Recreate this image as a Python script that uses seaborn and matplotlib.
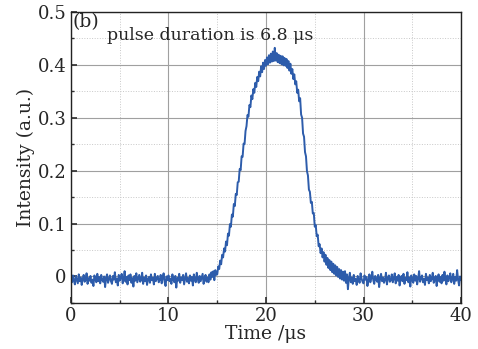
import numpy as np
import pandas as pd
import matplotlib
matplotlib.use("Agg")
import matplotlib.pyplot as plt
import seaborn as sns
from matplotlib.ticker import MultipleLocator

# Осциллограмма импульса, шаг 0.1 мкс
time_step = 0.1
intensity = [
    -0.004, -0.011, 0.002, -0.008, -0.015, 0.001, -0.006, -0.013, 0.004, -0.009,
    -0.002, -0.016, -0.005, 0.003, -0.010, -0.007, 0.006, -0.014, -0.003, -0.008,
    0.001, -0.012, -0.006, -0.018, 0.002, -0.004, -0.011, 0.005, -0.009, -0.001,
    -0.013, 0.003, -0.007, -0.010, 0.000, -0.020, -0.003, 0.004, -0.012, -0.005,
    0.002, -0.009, -0.014, 0.001, -0.006, 0.008, -0.011, -0.004, -0.017, 0.003,
    -0.008, -0.002, 0.005, -0.013, -0.006, 0.010, -0.010, -0.001, -0.015, 0.002,
    -0.007, 0.004, -0.012, -0.003, -0.019, 0.001, -0.008, 0.006, -0.011, -0.004,
    0.003, -0.010, -0.006, 0.007, -0.014, -0.002, -0.009, 0.002, -0.016, -0.005,
    -0.001, -0.012, 0.004, -0.007, -0.003, -0.015, 0.005, -0.009, -0.004, 0.001,
    -0.011, -0.006, 0.003, -0.013, -0.002, 0.006, -0.010, -0.018, 0.000, -0.007,
    0.002, -0.009, -0.004, -0.014, 0.004, -0.006, -0.011, 0.001, -0.021, -0.003,
    -0.008, 0.005, -0.012, -0.002, -0.007, 0.003, -0.015, -0.005, 0.006, -0.010,
    -0.003, -0.013, 0.002, -0.008, -0.001, -0.017, 0.004, -0.006, -0.011, 0.007,
    -0.005, -0.012, 0.001, -0.009, -0.002, 0.005, -0.014, -0.004, 0.003, -0.010,
    -0.002, -0.011, 0.004, -0.006, 0.008, -0.001, 0.010, -0.007, 0.012, 0.003,
    0.004, 0.019, 0.014, 0.030, 0.023, 0.041, 0.036, 0.053, 0.047, 0.066,
    0.059, 0.081, 0.077, 0.099, 0.094, 0.117, 0.113, 0.137, 0.133, 0.156,
    0.154, 0.178, 0.179, 0.203, 0.201, 0.227, 0.226, 0.251, 0.250, 0.275,
    0.284, 0.305, 0.302, 0.324, 0.320, 0.342, 0.335, 0.354, 0.347, 0.366,
    0.358, 0.377, 0.369, 0.387, 0.378, 0.397, 0.386, 0.404, 0.392, 0.409,
    0.398, 0.414, 0.401, 0.418, 0.404, 0.421, 0.406, 0.425, 0.407, 0.432,
    0.408, 0.422, 0.405, 0.419, 0.403, 0.417, 0.401, 0.416, 0.399, 0.413,
    0.398, 0.411, 0.394, 0.407, 0.389, 0.402, 0.383, 0.392, 0.373, 0.382,
    0.363, 0.369, 0.347, 0.353, 0.331, 0.337, 0.306, 0.300, 0.270, 0.264,
    0.235, 0.227, 0.199, 0.191, 0.164, 0.160, 0.139, 0.141, 0.119, 0.120,
    0.094, 0.097, 0.076, 0.079, 0.057, 0.061, 0.044, 0.053, 0.036, 0.046,
    0.028, 0.041, 0.022, 0.035, 0.016, 0.031, 0.012, 0.028, 0.008, 0.024,
    0.005, 0.021, 0.002, 0.018, -0.001, 0.014, -0.004, 0.012, -0.006, 0.009,
    -0.008, 0.010, -0.012, 0.004, -0.024, -0.003, 0.007, -0.011, -0.002, -0.014,
    0.003, -0.009, -0.005, -0.016, 0.001, -0.007, -0.012, 0.006, -0.004, -0.010,
    -0.013, 0.002, -0.006, -0.001, -0.018, -0.008, 0.004, -0.011, -0.003, 0.009,
    -0.007, -0.014, 0.001, -0.005, -0.010, 0.003, -0.020, -0.004, 0.005, -0.009,
    -0.002, -0.012, -0.006, 0.007, -0.015, -0.003, 0.002, -0.010, -0.007, 0.004,
    -0.011, -0.004, 0.006, -0.013, -0.001, -0.008, 0.003, -0.017, -0.005, 0.001,
    -0.009, 0.005, -0.014, -0.003, -0.007, 0.008, -0.011, -0.002, -0.019, 0.002,
    -0.006, -0.012, 0.004, -0.008, 0.001, -0.015, -0.004, 0.010, -0.010, -0.003,
    0.002, -0.011, -0.005, -0.016, 0.005, -0.007, -0.002, -0.013, 0.003, -0.009,
    -0.004, 0.007, -0.012, -0.006, 0.001, -0.018, -0.003, 0.004, -0.010, -0.001,
    -0.013, 0.003, -0.008, 0.009, -0.005, -0.015, 0.002, -0.009, -0.002, 0.006,
    -0.011, -0.004, 0.005, -0.014, -0.001, -0.008, 0.012, -0.006, -0.017, 0.000,
    -0.007,
]
time = np.arange(len(intensity)) * time_step

df = pd.DataFrame({'Time': time, 'Intensity': intensity})

sns.set_theme(style='ticks')
plt.rcParams['font.family'] = ['DejaVu Serif']

fig = plt.figure(figsize=(4.78, 3.49), dpi=100)
ax = fig.add_axes([0.1485, 0.132, 0.816, 0.834])

sns.lineplot(data=df, x='Time', y='Intensity', ax=ax, estimator=None,
             color='#2d5cab', linewidth=1.4)

ax.set_xlim(0, 40)
ax.set_ylim(-0.05, 0.5)
ax.xaxis.set_major_locator(MultipleLocator(10))
ax.xaxis.set_minor_locator(MultipleLocator(5))
ax.yaxis.set_minor_locator(MultipleLocator(0.05))
ax.set_yticks([0, 0.1, 0.2, 0.3, 0.4, 0.5])
ax.set_yticklabels(['0', '0.1', '0.2', '0.3', '0.4', '0.5'])

ax.grid(which='major', color='#a0a0a0', linewidth=0.8, linestyle='-')
ax.grid(which='minor', color='#c8c8c8', linewidth=0.7, linestyle=':')
ax.set_axisbelow(True)
ax.tick_params(which='both', direction='in', labelsize=13, color='#333333')
ax.tick_params(which='major', length=4, pad=3)
ax.tick_params(which='minor', length=2)
for s in ax.spines.values():
    s.set_color('#222222')
    s.set_linewidth(1.0)

ax.set_xlabel('Time /μs', fontsize=13.5, labelpad=0)
ax.set_ylabel('Intensity (a.u.)', fontsize=13.5, labelpad=2)

ax.text(0.004, 0.995, '(b)', transform=ax.transAxes, fontsize=13.5,
        ha='left', va='top')
ax.text(0.092, 0.948, 'pulse duration is 6.8 μs', transform=ax.transAxes,
        fontsize=12.5, ha='left', va='top')

fig.savefig('out.png', dpi=100)
